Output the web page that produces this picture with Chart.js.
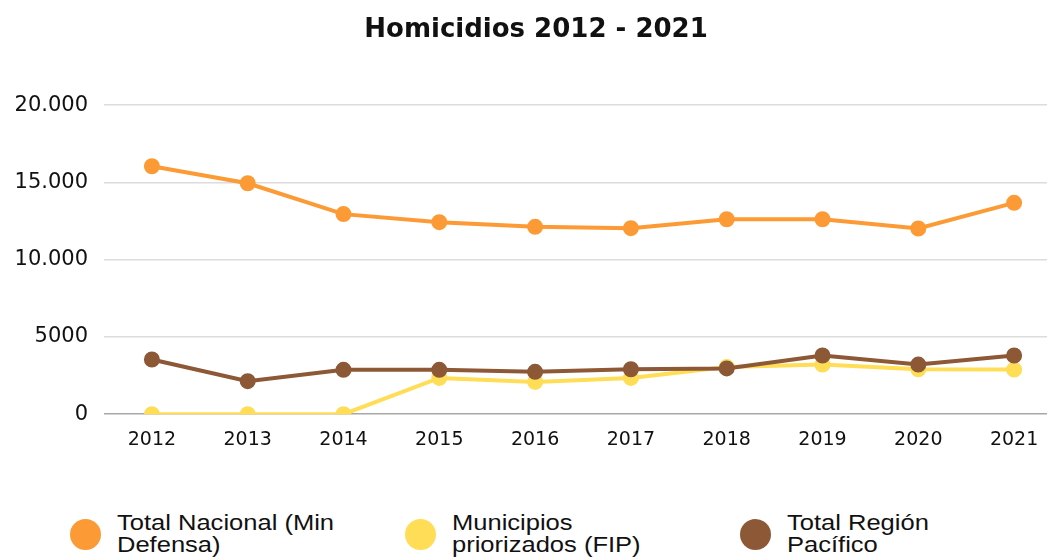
<!DOCTYPE html>
<html>
<head>
<meta charset="utf-8">
<script src="https://cdn.jsdelivr.net/npm/chart.js@4.4.1/dist/chart.umd.min.js"></script>
<style>
  html, body { margin: 0; padding: 0; background: #fff; overflow: hidden; width: 1047px; height: 559px; }
  #wrap { position: relative; width: 1072px; height: 465px; }
  #legend { position: absolute; left: 70px; top: 512px; display: flex; font-family: "Liberation Sans", sans-serif; font-size: 22px; line-height: 22px; color: #111; }
  .item { display: flex; align-items: flex-start; width: 335px; }
  .dot { width: 31px; height: 31px; border-radius: 50%; margin-top: 7px; margin-right: 16px; flex: none; }
  .txt { transform: scaleX(1.16); transform-origin: left top; white-space: nowrap; }
</style>
</head>
<body>
<div id="wrap"><canvas id="c"></canvas></div>
<div id="legend"></div>
<script>
const titleText = "Homicidios 2012 - 2021";
const years = ["2012","2013","2014","2015","2016","2017","2018","2019","2020","2021"];
const seriesNames = ["Total Nacional (Min Defensa)", "Municipios priorizados (FIP)", "Total Región Pacífico"];
const legendLines = [["Total Nacional (Min", "Defensa)"], ["Municipios", "priorizados (FIP)"], ["Total Región", "Pacífico"]];
const totalNacional = [16050, 14950, 12950, 12430, 12130, 12040, 12620, 12620, 12020, 13680];
const municipiosFIP = [0, 0, 0, 2350, 2090, 2350, 3060, 3210, 2910, 2890];
const regionPacifico = [3540, 2140, 2870, 2870, 2740, 2910, 2960, 3800, 3210, 3800];
const colors = ["#FC9A35", "#FFDD57", "#8C5836"];
const yTicks = [0, 5000, 10000, 15000, 20000];
const yTickLabels = ["0", "5000", "10.000", "15.000", "20.000"];

const FONT = '"DejaVu Sans", sans-serif';
const values = [totalNacional, municipiosFIP, regionPacifico];
const drawOrder = [2, 1, 0];

const datasets = values.map((v, i) => ({
  label: seriesNames[i],
  data: v,
  borderColor: colors[i],
  backgroundColor: colors[i],
  pointBackgroundColor: colors[i],
  pointBorderColor: colors[i],
  borderWidth: 4,
  pointRadius: 6,
  pointHoverRadius: 6,
  tension: 0,
  order: drawOrder[i]
}));

new Chart(document.getElementById('c'), {
  type: 'line',
  data: { labels: years, datasets },
  options: {
    responsive: true,
    maintainAspectRatio: false,
    animation: false,
    layout: { padding: { left: 0, right: 0, top: 0, bottom: 0 } },
    plugins: {
      legend: { display: false },
      tooltip: { enabled: false },
      title: {
        display: true,
        text: titleText,
        color: '#111',
        font: { family: FONT, size: 26, weight: 'bold' },
        padding: { top: 15, bottom: 59 }
      }
    },
    scales: {
      x: {
        offset: true,
        grid: { display: false, drawTicks: false },
        border: { display: false },
        ticks: { color: '#111', font: { family: FONT, size: 19, weight: '500' }, padding: 14, maxRotation: 0 }
      },
      y: {
        min: 0, max: 20000,
        afterBuildTicks: (s) => { s.ticks = yTicks.map(v => ({ value: v })); },
        afterFit: (s) => { s.width = 104; },
        grid: {
          drawTicks: false,
          color: (ctx) => ctx.tick && ctx.tick.value === 0 ? '#a8a8a8' : '#dcdcdc',
          lineWidth: 1.5
        },
        border: { display: false },
        ticks: {
          color: '#111',
          font: { family: FONT, size: 21 },
          padding: 16,
          callback: (v) => yTickLabels[yTicks.indexOf(v)]
        }
      }
    }
  }
});

const leg = document.getElementById('legend');
legendLines.forEach((lines, i) => {
  const it = document.createElement('div');
  it.className = 'item';
  const d = document.createElement('div');
  d.className = 'dot';
  d.style.background = colors[i];
  const t = document.createElement('div');
  t.className = 'txt';
  t.innerHTML = lines.join('<br>');
  it.appendChild(d); it.appendChild(t);
  leg.appendChild(it);
});
</script>
</body>
</html>
